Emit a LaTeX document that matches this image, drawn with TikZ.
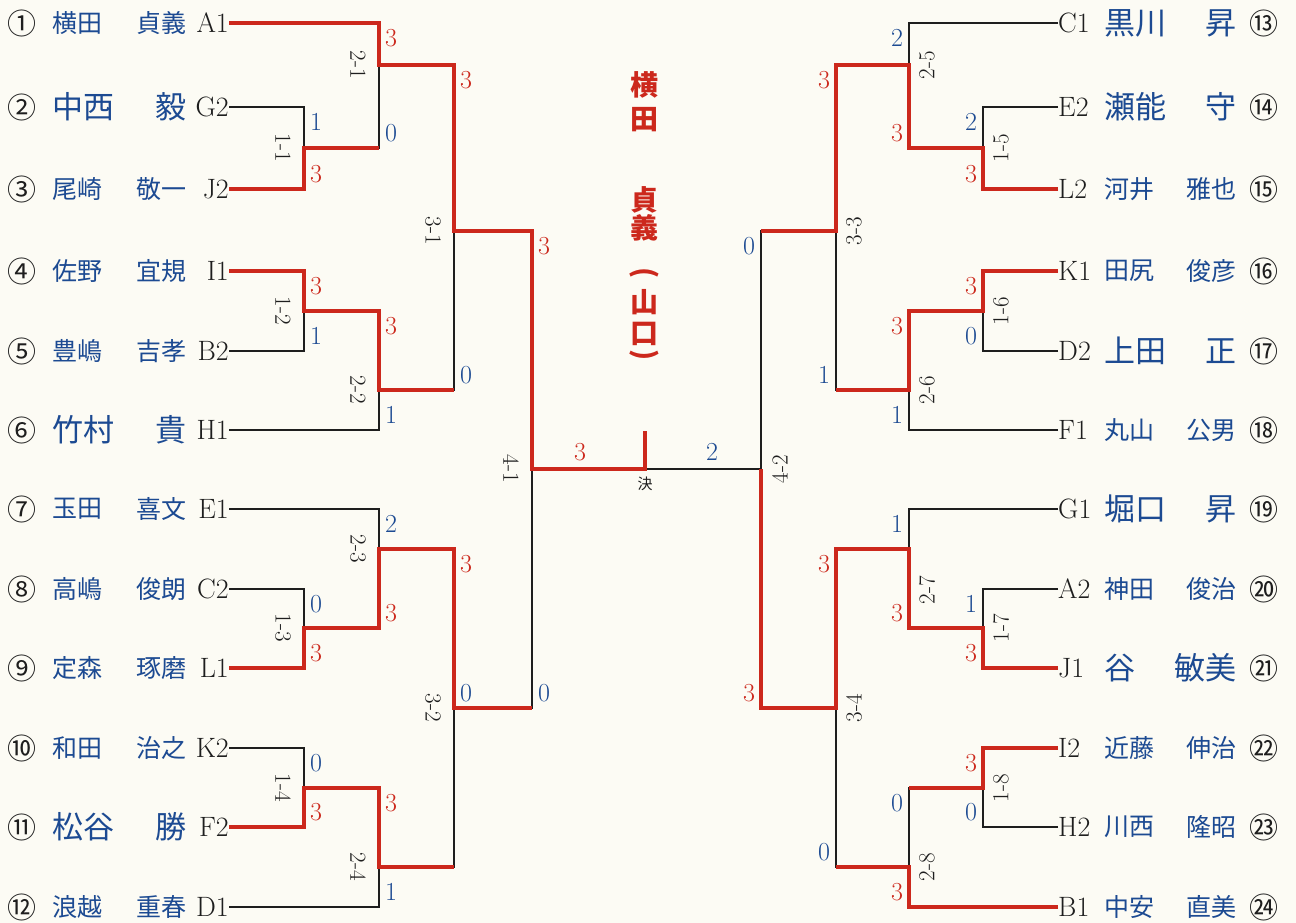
\documentclass[tikz,border=0pt]{standalone}
\usepackage{fontspec}
\newfontfamily\cjk{Noto Sans CJK JP}
\definecolor{bg}{RGB}{252,251,244}
\definecolor{wred}{RGB}{204,40,28}
\definecolor{lblue}{RGB}{28,74,146}
\definecolor{ink}{RGB}{30,30,30}
\begin{document}
\begin{tikzpicture}[x=1pt,y=-1pt,
  blk/.style={line width=1.3pt, draw=ink},
  win/.style={line width=3.3pt, draw=wred, line join=miter},
  code/.style={inner sep=0pt, font=\fontsize{28}{28}\selectfont, text=ink},
  nm/.style={inner sep=0pt, text=lblue},
  circ/.style={inner sep=0pt, text=ink, font=\cjk\fontsize{29}{29}\selectfont},
  sw/.style={inner sep=0pt, font=\fontsize{26}{26}\selectfont, text=wred},
  sl/.style={inner sep=0pt, font=\fontsize{26}{26}\selectfont, text=lblue},
  lblL/.style={inner sep=0pt, text=ink, font=\fontsize{23}{23}\selectfont, rotate=-90},
  lblR/.style={inner sep=0pt, text=ink, font=\fontsize{23}{23}\selectfont, rotate=90},
  champ/.style={inner sep=0pt, text=wred, font=\cjk\bfseries\fontsize{28}{28}\selectfont}
]
\fill[bg] (0,0) rectangle (1296,923);
\useasboundingbox (0,0) rectangle (1296,923);

% ---------- left entries
\foreach \cn/\yy/\sn/\gn/\cd/\fz in {①/23/横田/貞義/A1/25, ②/107/中西/毅/G2/31, ③/189/尾崎/敬一/J2/25, ④/271/佐野/宜規/I1/25, ⑤/351/豊嶋/吉孝/B2/25, ⑥/430/竹村/貴/H1/31, ⑦/509/玉田/喜文/E1/25, ⑧/589/高嶋/俊朗/C2/25, ⑨/668/定森/琢磨/L1/25, ⑩/748/和田/治之/K2/25, ⑪/827/松谷/勝/F2/31, ⑫/907/浪越/重春/D1/25}{
  \node[circ] (c-\cd) at (22,\yy) {\cn};
  \node[nm, anchor=west, font=\cjk\fontsize{\fz}{\fz}\selectfont] (s-\cd) at (52,\yy) {\sn};
  \node[nm, anchor=east, font=\cjk\fontsize{\fz}{\fz}\selectfont] (g-\cd) at (187,\yy) {\gn};
  \node[code, anchor=east] (\cd) at (229,\yy) {\cd};
}
% ---------- right entries
\foreach \cn/\yy/\sn/\gn/\cd/\fz in {⑬/23/黒川/昇/C1/31, ⑭/107/瀬能/守/E2/31, ⑮/189/河井/雅也/L2/25, ⑯/271/田尻/俊彦/K1/25, ⑰/351/上田/正/D2/31, ⑱/430/丸山/公男/F1/25, ⑲/509/堀口/昇/G1/31, ⑳/589/神田/俊治/A2/25, ㉑/668/谷/敏美/J1/31, ㉒/748/近藤/伸治/I2/25, ㉓/827/川西/隆昭/H2/25, ㉔/907/中安/直美/B1/25}{
  \node[code, anchor=west] (\cd) at (1058,\yy) {\cd};
  \node[nm, anchor=west, font=\cjk\fontsize{\fz}{\fz}\selectfont] (s-\cd) at (1104,\yy) {\sn};
  \node[nm, anchor=east, font=\cjk\fontsize{\fz}{\fz}\selectfont] (g-\cd) at (1237,\yy) {\gn};
  \node[circ] (c-\cd) at (1264,\yy) {\cn};
}

% ---------- match points
\coordinate (m11) at (304,148); \coordinate (m21) at (379,65);
\coordinate (m12) at (304,311); \coordinate (m22) at (379,390);
\coordinate (m31) at (454,231);
\coordinate (m13) at (304,628); \coordinate (m23) at (379,549);
\coordinate (m14) at (304,788); \coordinate (m24) at (379,867);
\coordinate (m32) at (454,708);
\coordinate (m41) at (532,469);
\coordinate (m15) at (983,148); \coordinate (m25) at (909,65);
\coordinate (m16) at (983,311); \coordinate (m26) at (909,390);
\coordinate (m33) at (836,231);
\coordinate (m17) at (983,628); \coordinate (m27) at (909,549);
\coordinate (m18) at (983,788); \coordinate (m28) at (909,867);
\coordinate (m34) at (836,708);
\coordinate (m42) at (761,469);
\coordinate (fin) at (645,469); \coordinate (fintop) at (645,431);

% ---------- black bracket
\draw[blk] (G2.east) -| (m11) (J2.east) -| (m11) (A1.east) -| (m21) (m11) -| (m21)
  (I1.east) -| (m12) (B2.east) -| (m12) (m12) -| (m22) (H1.east) -| (m22)
  (m21) -| (m31) (m22) -| (m31)
  (C2.east) -| (m13) (L1.east) -| (m13) (E1.east) -| (m23) (m13) -| (m23)
  (K2.east) -| (m14) (F2.east) -| (m14) (m14) -| (m24) (D1.east) -| (m24)
  (m23) -| (m32) (m24) -| (m32)
  (m31) -| (m41) (m32) -| (m41) (m41) -- (m42);
\draw[blk] (E2.west) -| (m15) (L2.west) -| (m15) (C1.west) -| (m25) (m15) -| (m25)
  (K1.west) -| (m16) (D2.west) -| (m16) (m16) -| (m26) (F1.west) -| (m26)
  (m25) -| (m33) (m26) -| (m33)
  (A2.west) -| (m17) (J1.west) -| (m17) (G1.west) -| (m27) (m17) -| (m27)
  (I2.west) -| (m18) (H2.west) -| (m18) (m18) -| (m28) (B1.west) -| (m28)
  (m27) -| (m34) (m28) -| (m34)
  (m33) -| (m42) (m34) -| (m42);

% ---------- winning paths
\draw[win] (A1.east) -| (m21) -| (m31) -| (m41) -- (fin) -- (fintop);
\draw[win] (J2.east) -| (m11) -- (m11 -| m21);
\draw[win] (I1.east) -| (m12) -| (m22) -- (m22 -| m31);
\draw[win] (L1.east) -| (m13) -| (m23) -| (m32) -- (m32 -| m41);
\draw[win] (F2.east) -| (m14) -| (m24) -- (m24 -| m32);
\draw[win] (L2.west) -| (m15) -| (m25) -| (m33) -- (m33 -| m42);
\draw[win] (K1.west) -| (m16) -| (m26) -- (m26 -| m33);
\draw[win] (J1.west) -| (m17) -| (m27) -| (m34) -| (m42);
\draw[win] (I2.west) -| (m18) -- (m18 -| m28);
\draw[win] (B1.west) -| (m28) -- (m28 -| m34);

% ---------- scores
\foreach \x/\y/\t/\st [count=\i] in {
  316/122/1/sl, 316/174/3/sw, 391/38/3/sw, 391/133/0/sl,
  316/286/3/sw, 316/336/1/sl, 391/326/3/sw, 391/415/1/sl,
  466/80/3/sw, 466/375/0/sl,
  391/524/2/sl, 391/613/3/sw, 316/604/0/sl, 316/653/3/sw,
  316/763/0/sl, 316/812/3/sw, 391/803/3/sw, 391/892/1/sl,
  466/564/3/sw, 466/693/0/sl, 544/246/3/sw, 544/693/0/sl,
  580/452/3/sw, 712/452/2/sl,
  897/38/2/sl, 897/133/3/sw, 971/122/2/sl, 971/174/3/sw,
  824/80/3/sw, 824/375/1/sl, 971/286/3/sw, 971/336/0/sl,
  897/326/3/sw, 897/415/1/sl, 749/246/0/sl, 749/693/3/sw,
  897/524/1/sl, 897/613/3/sw, 971/604/1/sl, 971/653/3/sw,
  824/564/3/sw, 824/852/0/sl, 971/763/3/sw, 971/812/0/sl,
  897/803/0/sl, 897/892/3/sw}{
  \node[\st] (sc\i) at (\x,\y) {\t};
}

% ---------- match labels
\foreach \x/\y/\t [count=\i] in {283/148/1-1, 358/65/2-1, 283/311/1-2, 358/390/2-2,
  433/231/3-1, 511/469/4-1, 358/549/2-3, 283/628/1-3, 283/788/1-4, 358/867/2-4, 433/708/3-2}{
  \node[lblL] (ll\i) at (\x,\y) {\t};
}
\foreach \x/\y/\t [count=\i] in {927/65/2-5, 1001/148/1-5, 854/231/3-3, 1001/311/1-6,
  927/390/2-6, 780/469/4-2, 927/590/2-7, 1001/628/1-7, 854/708/3-4, 1001/788/1-8, 927/867/2-8}{
  \node[lblR] (lr\i) at (\x,\y) {\t};
}

% ---------- champion
\foreach \y/\t [count=\i] in {85/横, 120/田, 200/貞, 228/義, 302/山, 334/口}{
  \node[champ] (ch\i) at (644,\y) {\t};
}
\node[champ, rotate=-90] (chpl) at (644,273) {(};
\node[champ, rotate=-90] (chpr) at (644,355) {)};
\node[inner sep=0pt, text=ink, font=\cjk\fontsize{15}{15}\selectfont] (ketsu) at (645,484) {決};
\end{tikzpicture}
\end{document}
